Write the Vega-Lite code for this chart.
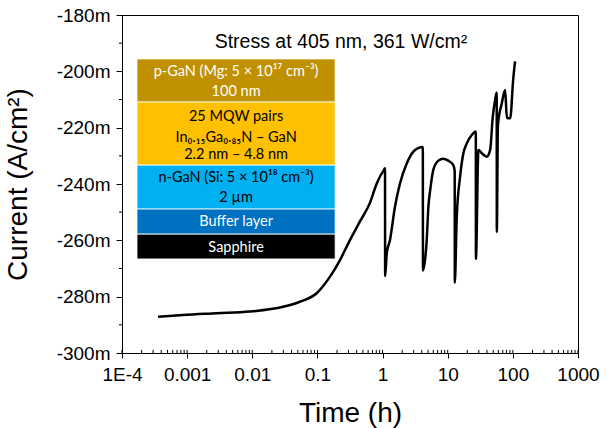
{
  "$schema": "https://vega.github.io/schema/vega-lite/v6.json",
  "autosize": {"type": "none"},
  "padding": {"left": 122, "top": 15, "right": 29, "bottom": 75},
  "width": 456,
  "height": 338,
  "background": "white",
  "config": {
    "view": {"stroke": "black", "strokeWidth": 1},
    "axis": {
      "domainColor": "black", "tickColor": "black", "labelColor": "black", "titleColor": "black",
      "labelFont": "Liberation Sans", "labelFontSize": 19, "titleFont": "Liberation Sans",
      "titleFontSize": 28, "titleFontWeight": "normal", "grid": false, "labelFlush": false,
      "labelOverlap": false, "labelBound": false
    }
  },
  "datasets": {
    "curve": [
      {"t": 0.000357, "v": -287.1}, {"t": 0.000866, "v": -286.5}, {"t": 0.00283, "v": -285.9},
      {"t": 0.00916, "v": -285.3}, {"t": 0.0298, "v": -283.6}, {"t": 0.0538, "v": -281.8},
      {"t": 0.0973, "v": -278.8}, {"t": 0.156, "v": -272.9}, {"t": 0.222, "v": -267.0},
      {"t": 0.316, "v": -259.9}, {"t": 0.45, "v": -253.3}, {"t": 0.64, "v": -246.7},
      {"t": 0.813, "v": -239.8}, {"t": 1.06, "v": -234.8}, {"t": 1.09, "v": -234.4}, {"t": 1.095, "v": -272.7},
      {"t": 1.16, "v": -264.6}, {"t": 1.30, "v": -259.9}, {"t": 1.55, "v": -248.1},
      {"t": 1.85, "v": -239.8}, {"t": 2.35, "v": -232.7}, {"t": 2.97, "v": -228.5},
      {"t": 3.6, "v": -227.2}, {"t": 4.15, "v": -226.9}, {"t": 4.17, "v": -270.7},
      {"t": 4.76, "v": -259.9}, {"t": 5.05, "v": -248.1}, {"t": 5.39, "v": -242.1},
      {"t": 6.01, "v": -235.0}, {"t": 7.18, "v": -231.7}, {"t": 8.5, "v": -231.0},
      {"t": 10.2, "v": -231.7}, {"t": 12.2, "v": -233.3}, {"t": 12.8, "v": -235.5},
      {"t": 12.85, "v": -275.1}, {"t": 13.77, "v": -251.6}, {"t": 15.49, "v": -237.4},
      {"t": 17.4, "v": -229.1}, {"t": 19.6, "v": -225.6}, {"t": 23.4, "v": -222.6},
      {"t": 27.0, "v": -221.4}, {"t": 27.1, "v": -266.6}, {"t": 29.6, "v": -227.9},
      {"t": 33.4, "v": -229.1}, {"t": 39.8, "v": -230.3}, {"t": 44.8, "v": -227.9},
      {"t": 49.2, "v": -216.1}, {"t": 53.4, "v": -210.2}, {"t": 56.5, "v": -207.5},
      {"t": 56.7, "v": -257.0}, {"t": 59.0, "v": -219.1}, {"t": 67.7, "v": -211.3},
      {"t": 76.1, "v": -206.6}, {"t": 81, "v": -216.6}, {"t": 91, "v": -216.7},
      {"t": 101, "v": -203.1}, {"t": 108, "v": -196.5}
    ],
    "stack": [
      {"layer": "p-GaN", "x0": 0.00017, "x1": 0.187, "y0": -195.6, "y1": -210.9},
      {"layer": "MQW", "x0": 0.00017, "x1": 0.187, "y0": -210.9, "y1": -233.3},
      {"layer": "n-GaN", "x0": 0.00017, "x1": 0.187, "y0": -233.3, "y1": -248.9},
      {"layer": "Buffer", "x0": 0.00017, "x1": 0.187, "y0": -248.9, "y1": -257.8},
      {"layer": "Sapphire", "x0": 0.00017, "x1": 0.187, "y0": -257.8, "y1": -266.6}
    ],
    "stackText": [
      {"layer": "p-GaN", "x": 0.00564, "y": -200.1, "label": "p-GaN (Mg: 5 × 10¹⁷ cm⁻³)"},
      {"layer": "p-GaN", "x": 0.00564, "y": -207.2, "label": "100 nm"},
      {"layer": "MQW", "x": 0.00564, "y": -216.1, "label": "25 MQW pairs"},
      {"layer": "MQW", "x": 0.00564, "y": -223.7, "label": "In₀.₁₅Ga₀.₈₅N – GaN"},
      {"layer": "MQW", "x": 0.00564, "y": -229.7, "label": "2.2 nm – 4.8 nm"},
      {"layer": "n-GaN", "x": 0.00564, "y": -237.9, "label": "n-GaN (Si: 5 × 10¹⁸ cm⁻³)"},
      {"layer": "n-GaN", "x": 0.00564, "y": -245.0, "label": "2 µm"},
      {"layer": "Buffer", "x": 0.00564, "y": -253.4, "label": "Buffer layer"},
      {"layer": "Sapphire", "x": 0.00564, "y": -262.7, "label": "Sapphire"}
    ],
    "note": [
      {"x": 0.2296, "y": -189.6, "label": "Stress at 405 nm, 361 W/cm²"}
    ],
    "xticks": [
      {"t": 0.0001}, {"t": 0.0002}, {"t": 0.0003}, {"t": 0.0004}, {"t": 0.0005}, {"t": 0.0006}, {"t": 0.0007}, {"t": 0.0008}, {"t": 0.0009},
      {"t": 0.001}, {"t": 0.002}, {"t": 0.003}, {"t": 0.004}, {"t": 0.005}, {"t": 0.006}, {"t": 0.007}, {"t": 0.008}, {"t": 0.009},
      {"t": 0.01}, {"t": 0.02}, {"t": 0.03}, {"t": 0.04}, {"t": 0.05}, {"t": 0.06}, {"t": 0.07}, {"t": 0.08}, {"t": 0.09},
      {"t": 0.1}, {"t": 0.2}, {"t": 0.3}, {"t": 0.4}, {"t": 0.5}, {"t": 0.6}, {"t": 0.7}, {"t": 0.8}, {"t": 0.9},
      {"t": 1}, {"t": 2}, {"t": 3}, {"t": 4}, {"t": 5}, {"t": 6}, {"t": 7}, {"t": 8}, {"t": 9},
      {"t": 10}, {"t": 20}, {"t": 30}, {"t": 40}, {"t": 50}, {"t": 60}, {"t": 70}, {"t": 80}, {"t": 90},
      {"t": 100}, {"t": 200}, {"t": 300}, {"t": 400}, {"t": 500}, {"t": 600}, {"t": 700}, {"t": 800}, {"t": 900}, {"t": 1000}
    ],
    "yticks": [
      {"v": -290}, {"v": -270}, {"v": -250}, {"v": -230}, {"v": -210}, {"v": -190}
    ]
  },
  "resolve": {"scale": {"color": "independent"}},
  "layer": [
    {
      "data": {"name": "stack"},
      "mark": {"type": "rect", "stroke": "white", "strokeWidth": 0.8},
      "encoding": {
        "x": {"field": "x0", "type": "quantitative",
          "scale": {"type": "log", "domain": [0.0001, 1000]}},
        "x2": {"field": "x1"},
        "y": {"field": "y0", "type": "quantitative",
          "scale": {"domain": [-300, -180], "nice": false, "zero": false}},
        "y2": {"field": "y1"},
        "color": {"field": "layer", "type": "nominal", "legend": null,
          "scale": {"domain": ["p-GaN", "MQW", "n-GaN", "Buffer", "Sapphire"],
            "range": ["#BF9000", "#FFC000", "#00B0F0", "#0070C0", "#000000"]}}
      }
    },
    {
      "data": {"name": "stackText"},
      "mark": {"type": "text", "font": "Lato", "fontSize": 14.5, "align": "center", "baseline": "middle"},
      "encoding": {
        "x": {"field": "x", "type": "quantitative", "scale": {"type": "log", "domain": [0.0001, 1000]}},
        "y": {"field": "y", "type": "quantitative", "scale": {"domain": [-300, -180], "nice": false, "zero": false}},
        "text": {"field": "label"},
        "color": {"field": "layer", "type": "nominal", "legend": null,
          "scale": {"domain": ["p-GaN", "MQW", "n-GaN", "Buffer", "Sapphire"],
            "range": ["#FFFFFF", "#000000", "#000000", "#FFFFFF", "#FFFFFF"]}}
      }
    },
    {
      "data": {"name": "note"},
      "mark": {"type": "text", "font": "Liberation Sans", "fontSize": 19.5, "align": "center", "baseline": "middle", "color": "black"},
      "encoding": {
        "x": {"field": "x", "type": "quantitative", "scale": {"type": "log", "domain": [0.0001, 1000]}},
        "y": {"field": "y", "type": "quantitative", "scale": {"domain": [-300, -180], "nice": false, "zero": false}},
        "text": {"field": "label"}
      }
    },
    {
      "data": {"name": "xticks"},
      "mark": {"type": "rule", "color": "black", "strokeWidth": 1},
      "encoding": {
        "x": {"field": "t", "type": "quantitative", "scale": {"type": "log", "domain": [0.0001, 1000]}},
        "y": {"datum": -300, "type": "quantitative", "scale": {"domain": [-300, -180], "nice": false, "zero": false}},
        "y2": {"datum": -298.9}
      }
    },
    {
      "data": {"name": "yticks"},
      "mark": {"type": "rule", "color": "black", "strokeWidth": 1},
      "encoding": {
        "y": {"field": "v", "type": "quantitative", "scale": {"domain": [-300, -180], "nice": false, "zero": false}},
        "x": {"datum": 0.0000899, "type": "quantitative", "scale": {"type": "log", "domain": [0.0001, 1000]}},
        "x2": {"datum": 0.0001}
      }
    },
    {
      "data": {"name": "curve"},
      "mark": {"type": "line", "color": "black", "strokeWidth": 2.5, "interpolate": "monotone"},
      "encoding": {
        "x": {"field": "t", "type": "quantitative",
          "scale": {"type": "log", "domain": [0.0001, 1000]},
          "axis": {"orient": "bottom", "title": "Time (h)", "tickSize": 5, "labelPadding": 7, "titlePadding": 15, "tickCount": 100,
            "values": [0.0001, 0.001, 0.01, 0.1, 1, 10, 100, 1000],
            "labelExpr": "datum.value == 0.0001 ? '1E-4' : '' + datum.value"}},
        "y": {"field": "v", "type": "quantitative",
          "scale": {"domain": [-300, -180], "nice": false, "zero": false},
          "axis": {"orient": "left", "title": "Current (A/cm²)", "tickSize": 6, "labelPadding": 6, "titlePadding": 24, "tickCount": 100,
            "values": [-300, -280, -260, -240, -220, -200, -180],
            "labelExpr": "datum.value + 'm'"}}
      }
    }
  ]
}
